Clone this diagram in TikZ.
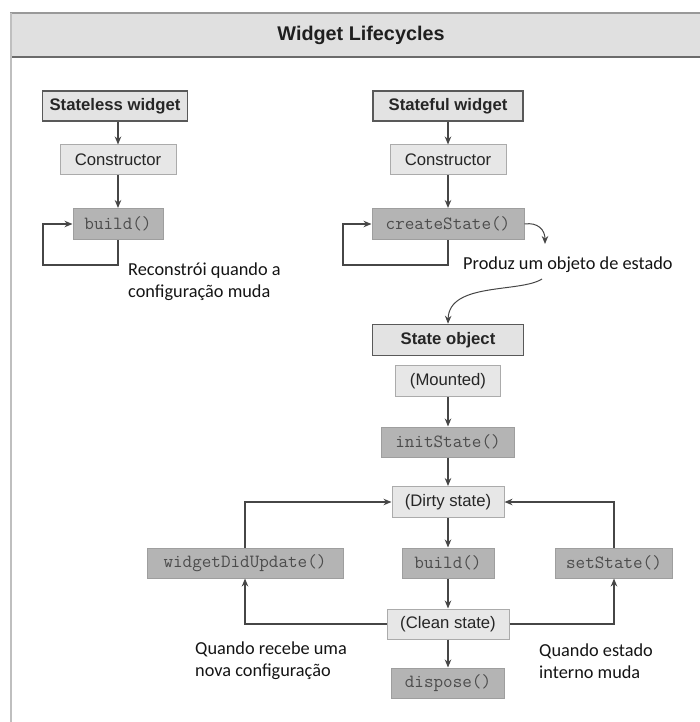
\documentclass[tikz,border=0pt]{standalone}
\usepackage{fontspec}
\setmainfont{Liberation Sans}
\newfontfamily\notefont{Carlito}
\usetikzlibrary{arrows.meta}
\definecolor{barcol}{RGB}{224,224,224}
\definecolor{headcol}{RGB}{227,227,227}
\definecolor{plaincol}{RGB}{231,231,231}
\definecolor{codecol}{RGB}{180,180,180}
\definecolor{linecol}{RGB}{70,70,70}
\tikzset{
  lc box/.style={rectangle,minimum height=30pt,inner sep=0pt,text=black!85,font=\fontsize{16.7}{20}\selectfont},
  lc head/.style={lc box,draw=black!65,fill=headcol,line width=1.5pt,font=\fontsize{16.7}{20}\selectfont\bfseries},
  lc plain/.style={lc box,draw=black!33,fill=plaincol,line width=1pt},
  lc code/.style={lc box,draw=black!38,fill=codecol,line width=1pt,text=black!70,font=\ttfamily\fontsize{18.6}{20}\selectfont},
  lc note/.style={anchor=west,align=left,inner sep=0pt,text=black!92,font=\notefont\fontsize{18.3}{22}\selectfont},
  lc arrow/.style={-{Stealth[length=8pt,width=6.5pt]},draw=linecol,line width=1.3pt}
}

\begin{document}
\begin{tikzpicture}[x=1pt,y=-1pt]
  \useasboundingbox (0,0) rectangle (700,722);
  % frame and title bar
  \fill[barcol] (10,13) rectangle (700,57);
  \draw[black!40,line width=2pt] (10,13) -- (700,13);
  \draw[black!58,line width=2pt] (10,57) -- (700,57);
  \draw[black!25,line width=2pt] (11,13) -- (11,722);
  \node[text=black!88,font=\fontsize{19.8}{22}\selectfont\bfseries] (title) at (361,35) {Widget Lifecycles};
  % stateless widget
  \node[lc head,minimum width=145pt] (slHead) at (115,106) {Stateless widget};
  \node[lc plain,minimum width=116pt] (slCtor) at (118,160) {Constructor};
  \node[lc code,minimum width=90pt,minimum height=31pt] (slBuild) at (118,224) {build()};
  \draw[lc arrow] (slHead.south -| slCtor) -- (slCtor);
  \draw[lc arrow] (slCtor) -- (slBuild);
  \draw[lc arrow] (slBuild.south) |- (43,265) |- (slBuild.west);
  \node[lc note] (slNote) at (128,282) {Reconstrói quando a\\configuração muda};
  % stateful widget
  \node[lc head,minimum width=150pt] (sfHead) at (448,106) {Stateful widget};
  \node[lc plain,minimum width=116pt] (sfCtor) at (448,160) {Constructor};
  \node[lc code,minimum width=152pt,minimum height=31pt] (sfCreate) at (448,224) {createState()};
  \draw[lc arrow] (sfHead) -- (sfCtor);
  \draw[lc arrow] (sfCtor) -- (sfCreate);
  \draw[lc arrow] (sfCreate.south) |- (343,265) |- (sfCreate.west);
  \node[lc note] (sfNote) at (463,265) {Produz um objeto de estado};
  \coordinate (sfDrop) at (545,244);
  \coordinate (sfFrom) at (542,279);
  \draw[lc arrow,line width=1pt] (sfCreate.east) .. controls (538,222) and (545,230) .. (sfDrop);
  % state object
  \node[lc head,minimum width=151pt,minimum height=31pt] (soHead) at (448,340) {State object};
  \draw[lc arrow,line width=1pt] (sfFrom) .. controls (520,293) and (449,282) .. (soHead.north);
  \node[lc plain,minimum width=105pt,minimum height=31pt] (soMount) at (448,381) {(Mounted)};
  \node[lc code,minimum width=133pt] (soInit) at (448,442) {initState()};
  \node[lc plain,minimum width=112pt,minimum height=31pt] (soDirty) at (448,502) {(Dirty state)};
  \node[lc code,minimum width=92pt] (soBuild) at (448,563) {build()};
  \node[lc plain,minimum width=122pt] (soClean) at (448,624) {(Clean state)};
  \node[lc code,minimum width=113pt] (soDispose) at (448,683) {dispose()};
  \node[lc code,minimum width=196pt] (soUpdate) at (245,563) {widgetDidUpdate()};
  \node[lc code,minimum width=117pt] (soSet) at (614,563) {setState()};
  \foreach \a/\b in {soMount/soInit, soInit/soDirty, soDirty/soBuild, soBuild/soClean, soClean/soDispose}{\draw[lc arrow] (\a) -- (\b);}
  \draw[lc arrow] (soClean.west) -| (soUpdate.south);
  \draw[lc arrow] (soUpdate.north) |- (soDirty.west);
  \draw[lc arrow] (soClean.east) -| (soSet.south);
  \draw[lc arrow] (soSet.north) |- (soDirty.east);
  \node[lc note] (soNoteL) at (195,661) {Quando recebe uma\\nova configuração};
  \node[lc note] (soNoteR) at (539,661) {Quando estado\\interno muda};
\end{tikzpicture}
\end{document}
